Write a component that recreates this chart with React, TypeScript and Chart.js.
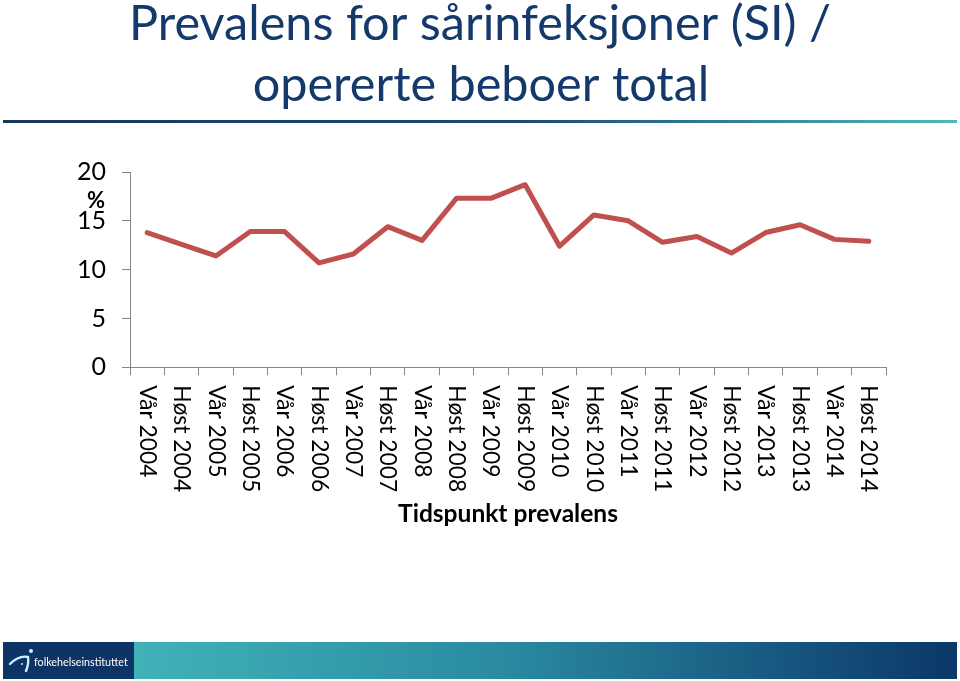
import React, { useEffect, useRef } from "react";
import Chart from "chart.js/auto";

const categories = [
  "Vår 2004", "Høst 2004", "Vår 2005", "Høst 2005", "Vår 2006", "Høst 2006",
  "Vår 2007", "Høst 2007", "Vår 2008", "Høst 2008", "Vår 2009", "Høst 2009",
  "Vår 2010", "Høst 2010", "Vår 2011", "Høst 2011", "Vår 2012", "Høst 2012",
  "Vår 2013", "Høst 2013", "Vår 2014", "Høst 2014",
];
const prevalence = [
  13.8, 12.6, 11.4, 13.9, 13.9, 10.7, 11.6, 14.4, 13.0, 17.3, 17.3, 18.7,
  12.4, 15.6, 15.0, 12.8, 13.4, 11.7, 13.8, 14.6, 13.1, 12.9,
];
const yMin = 0;
const yMax = 20;
const yStep = 5;
const titleLines = ["Prevalens for sårinfeksjoner (SI) /", "opererte beboer total"];
const xTitle = "Tidspunkt prevalens";
const yUnit = "%";
const brandText = "folkehelseinstituttet";

const FONT = "Lato, 'Open Sans', sans-serif";

function fitFont(ctx: CanvasRenderingContext2D, text: string, weight: string, target: number) {
  ctx.font = `${weight} 40px ${FONT}`;
  const w = ctx.measureText(text).width;
  return (40 * target) / w;
}

const decorPlugin = {
  id: "decor",
  beforeDraw(chart: any) {
    const ctx: CanvasRenderingContext2D = chart.ctx;
    const W = chart.width;
    ctx.save();
    ctx.fillStyle = "#ffffff";
    ctx.fillRect(0, 0, W, chart.height);

    // Title
    ctx.fillStyle = "#143A6B";
    ctx.textAlign = "center";
    ctx.textBaseline = "alphabetic";
    const size = fitFont(ctx, titleLines[0], "normal", 702);
    ctx.font = `normal ${size}px ${FONT}`;
    ctx.fillText(titleLines[0], 480, 40);
    ctx.fillText(titleLines[1], 481, 101);

    // decorative rule
    const g = ctx.createLinearGradient(3, 0, 957, 0);
    g.addColorStop(0, "#17375E");
    g.addColorStop(0.55, "#1D4A77");
    g.addColorStop(1, "#50B9BD");
    ctx.fillStyle = g;
    ctx.fillRect(3, 120, 954, 3);

    // bottom banner
    ctx.fillStyle = "#0E3466";
    ctx.fillRect(3, 642, 131, 37);
    const g2 = ctx.createLinearGradient(134, 0, 957, 0);
    g2.addColorStop(0, "#40B3B7");
    g2.addColorStop(0.45, "#2A8AA2");
    g2.addColorStop(1, "#0B3769");
    ctx.fillStyle = g2;
    ctx.fillRect(134, 642, 823, 37);

    // logo
    ctx.strokeStyle = "#CFEFFF";
    ctx.fillStyle = "#CFEFFF";
    ctx.lineWidth = 2.4;
    ctx.lineCap = "round";
    ctx.beginPath();
    ctx.moveTo(10, 664);
    ctx.quadraticCurveTo(19, 655, 28, 657);
    ctx.quadraticCurveTo(29, 664, 26, 671);
    ctx.stroke();
    ctx.beginPath();
    ctx.arc(31, 651, 2, 0, Math.PI * 2);
    ctx.fill();
    ctx.beginPath();
    ctx.arc(22, 664, 1, 0, Math.PI * 2);
    ctx.fill();
    ctx.fillStyle = "#ffffff";
    const bs = fitFont(ctx, brandText, "normal", 94);
    ctx.font = `normal ${bs}px ${FONT}`;
    ctx.textAlign = "left";
    ctx.textBaseline = "alphabetic";
    ctx.fillText(brandText, 34, 666);
    ctx.restore();
  },
  afterDraw(chart: any) {
    const ctx: CanvasRenderingContext2D = chart.ctx;
    const xs = chart.scales.x;
    const area = chart.chartArea;
    ctx.save();
    ctx.fillStyle = "#000000";
    const ls = fitFont(ctx, "Høst 2004", "normal", 107);
    ctx.font = `normal ${ls}px ${FONT}`;
    ctx.textAlign = "left";
    ctx.textBaseline = "middle";
    categories.forEach((c, i) => {
      const x = xs.getPixelForValue(i);
      ctx.save();
      ctx.translate(x, area.bottom + 18);
      ctx.rotate(Math.PI / 2);
      ctx.fillText(c, 0, 0);
      ctx.restore();
    });
    // axis title
    const ts = fitFont(ctx, xTitle, "bold", 220);
    ctx.font = `bold ${ts}px ${FONT}`;
    ctx.textAlign = "center";
    ctx.textBaseline = "alphabetic";
    ctx.fillText(xTitle, 508, 522);
    // unit
    ctx.font = `bold 22px ${FONT}`;
    ctx.textAlign = "right";
    ctx.fillText(yUnit, 105, 208);
    ctx.restore();
  },
};

export default function App() {
  const ref = useRef<HTMLCanvasElement>(null);
  useEffect(() => {
    document.body.style.margin = "0";
    const canvas = ref.current!;
    const chart = new Chart(canvas, {
      type: "line",
      data: {
        labels: categories,
        datasets: [
          {
            label: "Prevalens",
            data: prevalence,
            borderColor: "#C0504D",
            backgroundColor: "#C0504D",
            borderWidth: 5,
            pointRadius: 0,
            tension: 0,
            fill: false,
            borderJoinStyle: "round",
            borderCapStyle: "round",
          },
        ],
      },
      options: {
        responsive: false,
        animation: false,
        layout: { padding: { top: 172, right: 74, left: 0, bottom: 0 } },
        plugins: {
          legend: { display: false },
          title: { display: false },
          tooltip: { enabled: false },
        },
        scales: {
          x: {
            type: "category",
            offset: true,
            grid: {
              display: true,
              offset: true,
              drawOnChartArea: false,
              drawTicks: true,
              tickLength: 8,
              color: "#868686",
            },
            border: { display: true, color: "#868686", width: 1 },
            ticks: { display: false },
            afterFit: (s: any) => {
              s.height = 313.7;
            },
          },
          y: {
            min: yMin,
            max: yMax,
            grid: {
              display: true,
              drawOnChartArea: false,
              drawTicks: true,
              tickLength: 8,
              color: "#868686",
            },
            border: { display: true, color: "#868686", width: 1 },
            ticks: {
              stepSize: yStep,
              color: "#000000",
              padding: 16,
              font: { family: FONT, size: 25 },
            },
            afterFit: (s: any) => {
              s.width = 130;
            },
          },
        },
      },
      plugins: [decorPlugin],
    } as any);
    return () => chart.destroy();
  }, []);
  return <canvas ref={ref} width={960} height={681} style={{ display: "block" }} />;
}
